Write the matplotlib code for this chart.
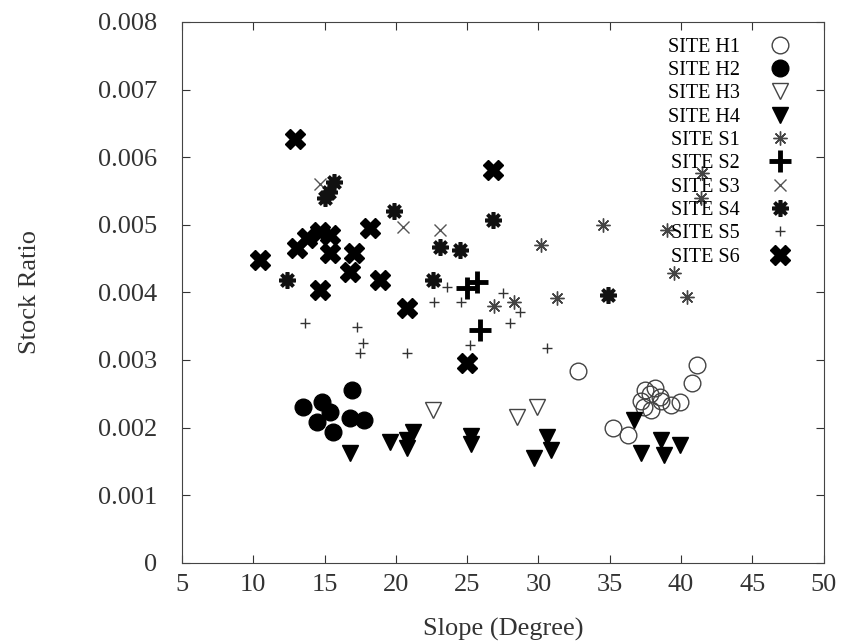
import matplotlib
matplotlib.use("Agg")
import matplotlib.pyplot as plt

plt.rc('font', family='serif', serif=['Liberation Serif', 'DejaVu Serif'])

# slope (degree) / stock ratio per site
h1_x = [32.8, 35.2, 36.3, 37.2, 37.5, 37.8, 38.2, 38.5, 37.4, 37.9, 38.6, 39.3, 39.9, 40.8, 41.1]
h1_y = [0.00283, 0.00200, 0.00189, 0.00240, 0.00256, 0.00250, 0.00258, 0.00245, 0.00230, 0.00226, 0.00240, 0.00234, 0.00238, 0.00266, 0.00293]
h2_x = [13.5, 14.8, 15.4, 14.5, 15.6, 16.9, 16.8, 17.8]
h2_y = [0.00231, 0.00238, 0.00223, 0.00209, 0.00194, 0.00256, 0.00214, 0.00211]
h3_x = [22.6, 28.5, 29.9]
h3_y = [0.00226, 0.00216, 0.00231]
h4_x = [16.8, 19.6, 21.2, 20.8, 20.8, 25.3, 25.3, 30.6, 30.9, 29.7, 36.7, 37.2, 38.6, 38.8, 39.9]
h4_y = [0.00163, 0.00179, 0.00194, 0.00182, 0.00170, 0.00188, 0.00176, 0.00186, 0.00167, 0.00155, 0.00211, 0.00163, 0.00182, 0.00160, 0.00175]
s1_x = [30.2, 26.9, 28.3, 31.3, 34.5, 40.4, 39.5, 39.0, 41.5, 41.4]
s1_y = [0.00470, 0.00380, 0.00386, 0.00392, 0.00500, 0.00393, 0.00429, 0.00492, 0.00577, 0.00540]
s2_x = [25.7, 25.0, 25.9]
s2_y = [0.00416, 0.00407, 0.00345]
s3_x = [14.7, 20.5, 23.1]
s3_y = [0.00560, 0.00497, 0.00492]
s4_x = [15.7, 15.0, 15.3, 19.9, 26.8, 23.1, 24.5, 22.6, 12.4, 34.9]
s4_y = [0.00563, 0.00540, 0.00548, 0.00520, 0.00507, 0.00467, 0.00463, 0.00419, 0.00419, 0.00396]
s5_x = [23.6, 22.7, 24.6, 27.5, 28.7, 13.6, 17.3, 17.7, 17.5, 20.8, 25.2, 28.0, 30.6]
s5_y = [0.00408, 0.00386, 0.00386, 0.00399, 0.00371, 0.00355, 0.00349, 0.00325, 0.00311, 0.00311, 0.00322, 0.00355, 0.00318]
s6_x = [12.9, 14.7, 15.4, 13.8, 13.1, 10.5, 14.7, 15.4, 17.1, 16.8, 18.9, 18.2, 26.8, 20.8, 25.0]
s6_y = [0.00627, 0.00490, 0.00485, 0.00480, 0.00466, 0.00448, 0.00404, 0.00458, 0.00458, 0.00430, 0.00419, 0.00495, 0.00581, 0.00377, 0.00296]

fig = plt.figure(figsize=(8.5, 6.44), dpi=100)
ax = fig.add_axes([0.214, 0.126, 0.755, 0.840])

ax.plot(h1_x, h1_y, 'o', ls='none', ms=12, mfc='none', mec='#444444', mew=1.0, label='SITE H1')
ax.plot(h2_x, h2_y, 'o', ls='none', ms=12, mfc='black', mec='black', label='SITE H2')
ax.plot(h3_x, h3_y, 'v', ls='none', ms=12, mfc='none', mec='#444444', mew=1.0, label='SITE H3')
ax.plot(h4_x, h4_y, 'v', ls='none', ms=12, mfc='black', mec='black', label='SITE H4')
ax.plot(s1_x, s1_y, marker=(8, 2, 0), ls='none', ms=10, mec='#444444', mew=1.0, label='SITE S1')
ax.plot(s2_x, s2_y, '+', ls='none', ms=16, mec='black', mew=3.5, label='SITE S2')
ax.plot(s3_x, s3_y, 'x', ls='none', ms=9, mec='#555555', mew=1.0, label='SITE S3')
ax.plot(s4_x, s4_y, marker=(8, 2, 0), ls='none', ms=12, mec='#111111', mew=2.6, label='SITE S4')
ax.plot(s5_x, s5_y, '+', ls='none', ms=7, mec='#333333', mew=1.0, label='SITE S5')
ax.plot(s6_x, s6_y, 'X', ls='none', ms=14, mfc='black', mec='black', label='SITE S6')

ax.set_xlim(5, 50)
ax.set_ylim(0, 0.008)
ax.set_xticks(range(5, 51, 5))
ax.set_yticks([i * 0.001 for i in range(9)])
ax.set_yticklabels(['0', '0.001', '0.002', '0.003', '0.004', '0.005', '0.006', '0.007', '0.008'])
ax.tick_params(direction='in', top=True, right=True, length=6, width=0.8,
               labelsize=19, colors='#333333')
ax.tick_params(axis='x', pad=8)
ax.tick_params(axis='y', pad=18)
for s in ax.spines.values():
    s.set_color('#444444')

ax.set_xlabel('Slope (Degree)', fontsize=19, color='#333333', labelpad=16)
ax.set_ylabel('Stock Ratio', fontsize=19, color='#333333', labelpad=41)

ax.legend(loc='upper right', bbox_to_anchor=(0.973, 0.997), markerfirst=False, frameon=False,
          fontsize=14.5, labelspacing=0.21, handlelength=1.2, handletextpad=1.4,
          borderaxespad=0.3, numpoints=1)

fig.savefig('out.png', dpi=100)
